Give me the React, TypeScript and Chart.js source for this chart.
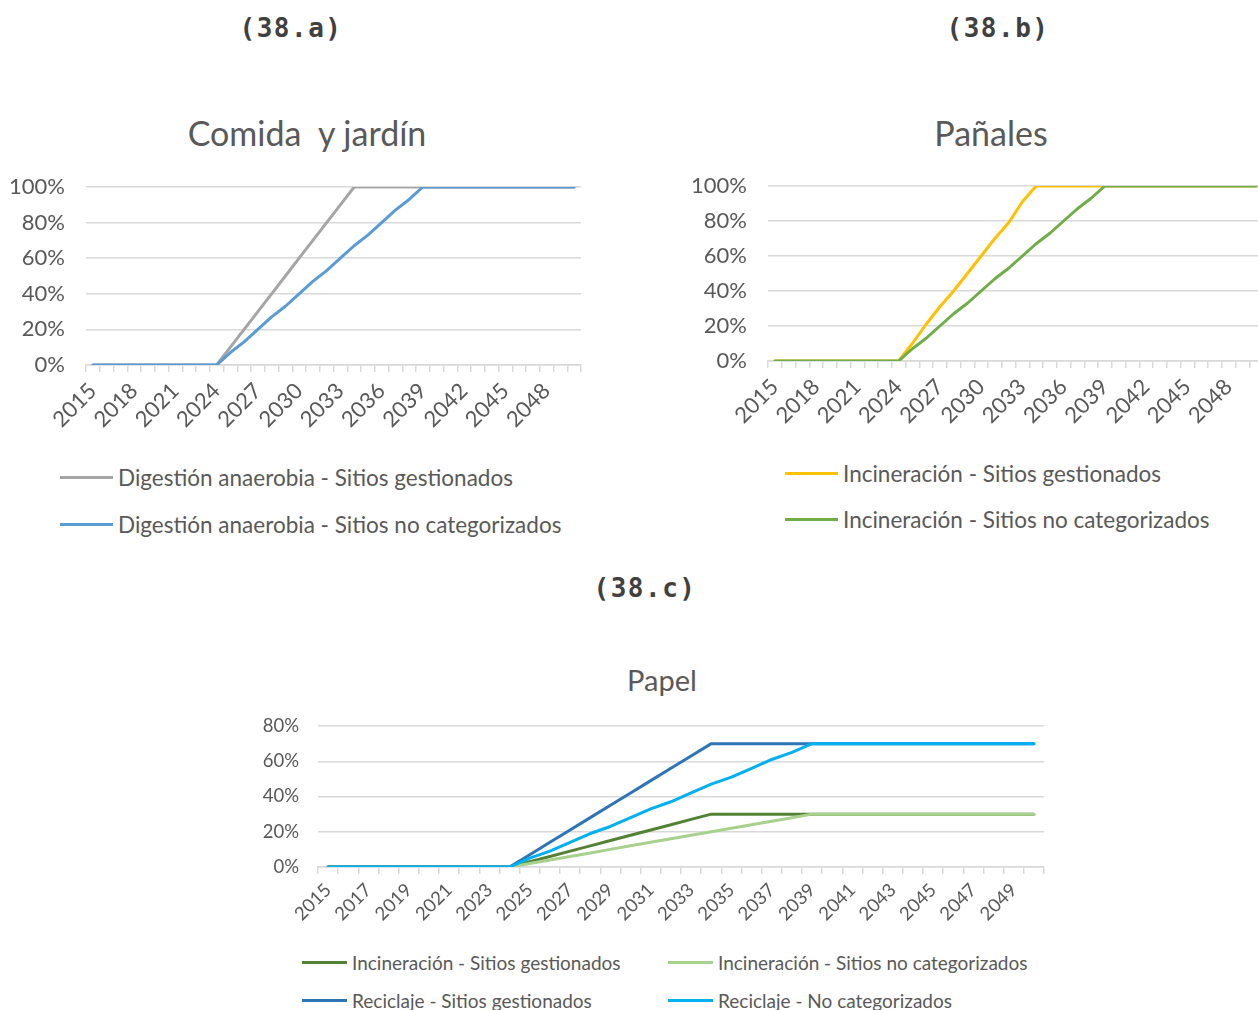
import React, { useEffect, useRef } from "react";
import { Chart, registerables } from "chart.js";

Chart.register(...registerables);

// ---- data -------------------------------------------------------------

const YEARS = [
  "2015", "2016", "2017", "2018", "2019", "2020", "2021", "2022", "2023",
  "2024", "2025", "2026", "2027", "2028", "2029", "2030", "2031", "2032",
  "2033", "2034", "2035", "2036", "2037", "2038", "2039", "2040", "2041",
  "2042", "2043", "2044", "2045", "2046", "2047", "2048", "2049", "2050",
];

// Comida y jardín (%)
const FOOD_AD_MANAGED = [
  0, 0, 0, 0, 0, 0, 0, 0, 0, 0,
  10, 20, 30, 40, 50, 60, 70, 80, 90, 100,
  100, 100, 100, 100, 100, 100, 100, 100, 100, 100, 100, 100, 100, 100, 100, 100,
];
const FOOD_AD_UNCATEGORIZED = [
  0, 0, 0, 0, 0, 0, 0, 0, 0, 0,
  7, 13, 20, 27, 33, 40, 47, 53, 60, 67, 73, 80, 87, 93, 100,
  100, 100, 100, 100, 100, 100, 100, 100, 100, 100, 100,
];

// Pañales (%)
const DIAPER_INC_MANAGED = [
  0, 0, 0, 0, 0, 0, 0, 0, 0, 0,
  10, 21, 31, 40, 50, 60, 70, 79, 91, 100,
  100, 100, 100, 100, 100, 100, 100, 100, 100, 100, 100, 100, 100, 100, 100, 100,
];
const DIAPER_INC_UNCATEGORIZED = [
  0, 0, 0, 0, 0, 0, 0, 0, 0, 0,
  7, 13, 20, 27, 33, 40, 47, 53, 60, 67, 73, 80, 87, 93, 100,
  100, 100, 100, 100, 100, 100, 100, 100, 100, 100, 100,
];

// Papel (%)
const PAPER_INC_MANAGED = [
  0, 0, 0, 0, 0, 0, 0, 0, 0, 0,
  3, 6, 9, 12, 15, 18, 21, 24, 27, 30,
  30, 30, 30, 30, 30, 30, 30, 30, 30, 30, 30, 30, 30, 30, 30, 30,
];
const PAPER_INC_UNCATEGORIZED = [
  0, 0, 0, 0, 0, 0, 0, 0, 0, 0,
  2, 4, 6, 8, 10, 12, 14, 16, 18, 20, 22, 24, 26, 28, 30,
  30, 30, 30, 30, 30, 30, 30, 30, 30, 30, 30,
];
const PAPER_REC_MANAGED = [
  0, 0, 0, 0, 0, 0, 0, 0, 0, 0,
  7, 14, 21, 28, 35, 42, 49, 56, 63, 70,
  70, 70, 70, 70, 70, 70, 70, 70, 70, 70, 70, 70, 70, 70, 70, 70,
];
const PAPER_REC_UNCATEGORIZED = [
  0, 0, 0, 0, 0, 0, 0, 0, 0, 0,
  5, 9, 14, 19, 23, 28, 33, 37, 42, 47, 51, 56, 61, 65, 70,
  70, 70, 70, 70, 70, 70, 70, 70, 70, 70, 70,
];

const FOOD_LABELS = [
  "Digestión anaerobia - Sitios gestionados",
  "Digestión anaerobia - Sitios no categorizados",
];
const DIAPER_LABELS = [
  "Incineración - Sitios gestionados",
  "Incineración - Sitios no categorizados",
];
const PAPER_LABELS = [
  "Incineración - Sitios gestionados",
  "Incineración - Sitios no categorizados",
  "Reciclaje - Sitios gestionados",
  "Reciclaje - No categorizados",
];

// ---- styling ------------------------------------------------------------

const FONT = "Lato, 'Noto Sans', sans-serif";
const TEXT_GRAY = "#595959";
const GRID_GRAY = "#d9d9d9";

type Series = { label: string; color: string; data: number[] };

type PanelProps = {
  series: Series[];
  yMax: number;
  labelEvery: number;
  left: number;
  top: number;
  width: number;
  height: number;
  plotTop: number;
  yAxisWidth: number;
  xAxisHeight: number;
  padRight: number;
  tickSize: number;
  yTickPad: number;
  xTickPad: number;
};

function LinePanel(p: PanelProps) {
  const ref = useRef<HTMLCanvasElement | null>(null);

  useEffect(() => {
    if (!ref.current) return;
    const n = p.series.length;
    const chart = new Chart(ref.current, {
      type: "line",
      data: {
        labels: YEARS,
        datasets: p.series.map((s, i) => ({
          label: s.label,
          data: s.data,
          borderColor: s.color,
          backgroundColor: s.color,
          borderWidth: 3,
          pointRadius: 0,
          tension: 0,
          fill: false,
          // later series are painted over earlier ones
          order: n - i,
          borderCapStyle: "round" as const,
          borderJoinStyle: "round" as const,
        })),
      },
      options: {
        animation: false,
        responsive: false,
        maintainAspectRatio: false,
        layout: { padding: { left: 0, right: p.padRight, top: p.plotTop, bottom: 0 } },
        plugins: {
          legend: { display: false },
          tooltip: { enabled: false },
          title: { display: false },
        },
        scales: {
          x: {
            type: "category",
            offset: true,
            grid: {
              display: true,
              offset: true,
              drawOnChartArea: false,
              drawTicks: true,
              tickLength: 7,
              color: GRID_GRAY,
              lineWidth: 1.5,
            },
            border: { display: true, color: GRID_GRAY, width: 1.5 },
            ticks: {
              autoSkip: false,
              minRotation: 45,
              maxRotation: 45,
              padding: p.xTickPad,
              color: TEXT_GRAY,
              font: { family: FONT, size: p.tickSize },
              callback: (_v: any, idx: number) =>
                idx % p.labelEvery === 0 ? YEARS[idx] : "",
            },
            afterFit: (scale: any) => {
              scale.height = p.xAxisHeight;
            },
          },
          y: {
            min: 0,
            max: p.yMax,
            grid: {
              color: GRID_GRAY,
              lineWidth: 1.5,
              drawTicks: false,
            },
            border: { display: false },
            ticks: {
              stepSize: 20,
              padding: p.yTickPad,
              color: TEXT_GRAY,
              font: { family: FONT, size: p.tickSize },
              callback: (v: any) => `${v}%`,
            },
            afterFit: (scale: any) => {
              scale.width = p.yAxisWidth;
            },
          },
        },
      },
    });
    return () => chart.destroy();
  }, []);

  return (
    <div
      style={{
        position: "absolute",
        left: p.left,
        top: p.top,
        width: p.width,
        height: p.height,
      }}
    >
      <canvas ref={ref} width={p.width} height={p.height} style={{ width: p.width, height: p.height }} />
    </div>
  );
}

function ChartTitle({
  text,
  cx,
  cy,
  size,
}: {
  text: string;
  cx: number;
  cy: number;
  size: number;
}) {
  return (
    <div
      style={{
        position: "absolute",
        left: cx - 200,
        top: cy - size * 0.6,
        width: 400,
        height: size * 1.2,
        lineHeight: `${size * 1.2}px`,
        textAlign: "center",
        whiteSpace: "pre",
        fontFamily: FONT,
        fontSize: size,
        color: TEXT_GRAY,
      }}
    >
      {text}
    </div>
  );
}

type LegendItem = { label: string; color: string; x: number; y: number };

function LegendEntry({
  item,
  lineWidth,
  fontSize,
}: {
  item: LegendItem;
  lineWidth: number;
  fontSize: number;
}) {
  return (
    <div
      style={{
        position: "absolute",
        left: item.x,
        top: item.y - 15,
        height: 30,
        display: "flex",
        alignItems: "center",
        whiteSpace: "nowrap",
        fontFamily: FONT,
        fontSize,
        color: TEXT_GRAY,
      }}
    >
      <span
        style={{
          display: "inline-block",
          width: lineWidth,
          height: 3,
          background: item.color,
          marginRight: 5,
        }}
      />
      <span>{item.label}</span>
    </div>
  );
}

function Heading({ text, cx, cy }: { text: string; cx: number; cy: number }) {
  return (
    <div
      style={{
        position: "absolute",
        left: cx - 100,
        top: cy - 18,
        width: 200,
        height: 36,
        lineHeight: "36px",
        textAlign: "center",
        fontFamily: "'DejaVu Sans Mono', monospace",
        fontWeight: "bold",
        fontSize: 26,
        letterSpacing: 1.5,
        color: "#404040",
      }}
    >
      {text}
    </div>
  );
}

export default function App() {
  const food: Series[] = [
    { label: FOOD_LABELS[0], color: "#a5a5a5", data: FOOD_AD_MANAGED },
    { label: FOOD_LABELS[1], color: "#5b9bd5", data: FOOD_AD_UNCATEGORIZED },
  ];
  const diapers: Series[] = [
    { label: DIAPER_LABELS[0], color: "#ffc000", data: DIAPER_INC_MANAGED },
    { label: DIAPER_LABELS[1], color: "#70ad47", data: DIAPER_INC_UNCATEGORIZED },
  ];
  const paper: Series[] = [
    { label: PAPER_LABELS[0], color: "#548235", data: PAPER_INC_MANAGED },
    { label: PAPER_LABELS[1], color: "#a9d18e", data: PAPER_INC_UNCATEGORIZED },
    { label: PAPER_LABELS[2], color: "#2e75b6", data: PAPER_REC_MANAGED },
    { label: PAPER_LABELS[3], color: "#00b0f0", data: PAPER_REC_UNCATEGORIZED },
  ];

  return (
    <div
      style={{
        position: "absolute",
        left: 0,
        top: 0,
        width: 1258,
        height: 1010,
        overflow: "hidden",
        background: "#ffffff",
      }}
    >
      <Heading text="(38.a)" cx={291} cy={28} />
      <Heading text="(38.b)" cx={998} cy={28} />
      <Heading text="(38.c)" cx={645} cy={588} />

      <ChartTitle text="Comida  y jardín" cx={307} cy={133} size={34} />
      <ChartTitle text="Pañales" cx={991} cy={133} size={34} />
      <ChartTitle text="Papel" cx={662} cy={680} size={29} />

      <LinePanel
        series={food}
        yMax={100}
        labelEvery={3}
        left={0}
        top={90}
        width={600}
        height={350}
        plotTop={97}
        yAxisWidth={86}
        xAxisHeight={75}
        padRight={19}
        tickSize={22}
        yTickPad={21}
        xTickPad={6}
      />
      <LinePanel
        series={diapers}
        yMax={100}
        labelEvery={3}
        left={682}
        top={90}
        width={600}
        height={350}
        plotTop={96}
        yAxisWidth={86}
        xAxisHeight={79}
        padRight={19}
        tickSize={22}
        yTickPad={21}
        xTickPad={6}
      />
      <LinePanel
        series={paper}
        yMax={80}
        labelEvery={2}
        left={240}
        top={640}
        width={830}
        height={300}
        plotTop={86}
        yAxisWidth={78}
        xAxisHeight={73}
        padRight={26}
        tickSize={18.5}
        yTickPad={19}
        xTickPad={5}
      />

      {food.map((s, i) => (
        <LegendEntry
          key={"f" + i}
          item={{ label: s.label, color: s.color, x: 60, y: 477 + i * 47 }}
          lineWidth={53}
          fontSize={22.5}
        />
      ))}
      {diapers.map((s, i) => (
        <LegendEntry
          key={"d" + i}
          item={{ label: s.label, color: s.color, x: 785, y: 473 + i * 46 }}
          lineWidth={53}
          fontSize={22.5}
        />
      ))}
      {paper.map((s, i) => (
        <LegendEntry
          key={"p" + i}
          item={{
            label: s.label,
            color: s.color,
            x: i % 2 === 0 ? 302 : 668,
            y: 962 + Math.floor(i / 2) * 38,
          }}
          lineWidth={45}
          fontSize={19}
        />
      ))}
    </div>
  );
}
